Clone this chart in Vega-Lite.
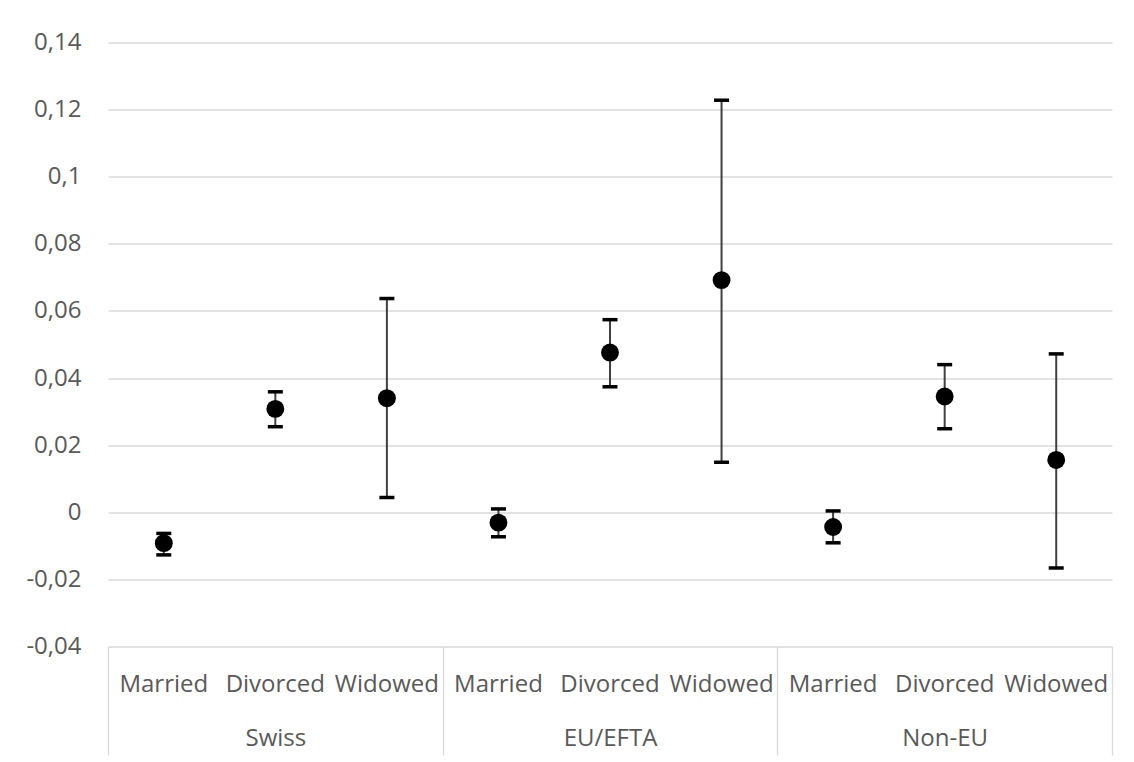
{
  "$schema": "https://vega.github.io/schema/vega-lite/v6.json",
  "width": 1004,
  "height": 604,
  "autosize": {"type": "none"},
  "padding": {"left": 108, "top": 42.5, "right": 22, "bottom": 115.5},
  "background": "white",
  "config": {
    "view": {"stroke": null},
    "font": "Open Sans",
    "axis": {"labelFont": "Open Sans", "labelFontSize": 24, "labelColor": "#595959"}
  },
  "data": {
    "values": [
      {"group": "Swiss", "status": "Married", "est": -0.0092, "lo": -0.0127, "hi": -0.0063},
      {"group": "Swiss", "status": "Divorced", "est": 0.0308, "lo": 0.0255, "hi": 0.0359},
      {"group": "Swiss", "status": "Widowed", "est": 0.0340, "lo": 0.0044, "hi": 0.0637},
      {"group": "EU/EFTA", "status": "Married", "est": -0.0031, "lo": -0.0073, "hi": 0.0010},
      {"group": "EU/EFTA", "status": "Divorced", "est": 0.0476, "lo": 0.0374, "hi": 0.0574},
      {"group": "EU/EFTA", "status": "Widowed", "est": 0.0692, "lo": 0.0149, "hi": 0.1228},
      {"group": "Non-EU", "status": "Married", "est": -0.0044, "lo": -0.0091, "hi": 0.0004},
      {"group": "Non-EU", "status": "Divorced", "est": 0.0345, "lo": 0.0249, "hi": 0.0440},
      {"group": "Non-EU", "status": "Widowed", "est": 0.0156, "lo": -0.0166, "hi": 0.0472}
    ]
  },
  "transform": [{"calculate": "datum.group + '|' + datum.status", "as": "key"}],
  "layer": [
    {
      "mark": {"type": "rule", "color": "#d9d9d9", "strokeWidth": 0},
      "encoding": {
        "y": {
          "field": "est",
          "type": "quantitative",
          "scale": {"domain": [-0.04, 0.14], "nice": false, "zero": false},
          "axis": {
            "title": null,
            "values": [-0.04, -0.02, 0, 0.02, 0.04, 0.06, 0.08, 0.1, 0.12, 0.14],
            "labelExpr": "replace(toString(datum.value), '.', ',')",
            "grid": true,
            "gridColor": "#d9d9d9",
            "gridWidth": 1.3,
            "domain": false,
            "ticks": false,
            "tickSize": 0,
            "labelPadding": 27,
            "zindex": 0
          }
        }
      }
    },
    {
      "encoding": {
        "x": {
          "field": "key",
          "type": "nominal",
          "sort": null,
          "scale": {"paddingInner": 0, "paddingOuter": 0},
          "axis": {
            "orient": "bottom",
            "title": null,
            "labelExpr": "split(datum.value, '|')[1]",
            "labelAngle": 0,
            "ticks": false,
            "tickSize": 0,
            "domain": false,
            "grid": false,
            "labelPadding": 26
          }
        }
      },
      "layer": [
        {
          "mark": {"type": "rule", "color": "#404040", "strokeWidth": 2},
          "encoding": {
            "y": {"field": "lo", "type": "quantitative"},
            "y2": {"field": "hi"}
          }
        },
        {
          "mark": {"type": "tick", "orient": "horizontal", "size": 15, "thickness": 3.5, "color": "black", "opacity": 1},
          "encoding": {"y": {"field": "lo", "type": "quantitative"}}
        },
        {
          "mark": {"type": "tick", "orient": "horizontal", "size": 15, "thickness": 3.5, "color": "black", "opacity": 1},
          "encoding": {"y": {"field": "hi", "type": "quantitative"}}
        },
        {
          "mark": {"type": "circle", "size": 320, "color": "black", "opacity": 1},
          "encoding": {"y": {"field": "est", "type": "quantitative"}}
        }
      ]
    },
    {
      "mark": {"type": "point", "opacity": 0},
      "encoding": {
        "x": {
          "field": "group",
          "type": "nominal",
          "sort": null,
          "scale": {"paddingInner": 0, "paddingOuter": 0},
          "axis": {
            "orient": "bottom",
            "title": null,
            "labelAngle": 0,
            "tickBand": "extent",
            "ticks": true,
            "tickSize": 108.5,
            "tickColor": "#d9d9d9",
            "tickWidth": 1.3,
            "domain": false,
            "grid": false,
            "labelBaseline": "alphabetic",
            "labelPadding": -10
          }
        },
        "y": {"field": "est", "type": "quantitative"}
      }
    }
  ],
  "resolve": {"scale": {"x": "independent"}, "axis": {"x": "independent"}}
}
